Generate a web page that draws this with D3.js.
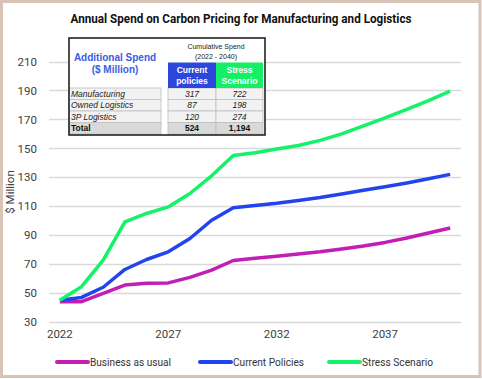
<!DOCTYPE html>
<html><head><meta charset="utf-8">
<script src="https://cdn.jsdelivr.net/npm/d3@7"></script>
<style>body{margin:0;background:#fff}svg{display:block}</style>
</head><body>
<svg id="c" width="482" height="379"></svg>
<script>
const years = d3.range(2022, 2041).map(String);
const tickYears = ["2022","2027","2032","2037"];
const yTicks = [30,50,70,90,110,130,150,170,190,210];
const businessAsUsual = [44,44,49.8,55.5,56.7,57,60.8,65.9,72.5,74,75.5,77,78.5,80.5,82.5,85,88,91.5,95];
const currentPolicies = [45,47,54,66.3,73.2,78.5,87.7,100.3,109,110.5,112,114,116,118.5,121,123.5,126,129,132];
const stressScenario = [45,54.4,72.8,99.2,105,109.5,118.8,131,145,147,149.5,152,155.5,160,165.5,171,177,183,189.5];
const seriesNames = ["Business as usual","Current Policies","Stress Scenario"];
const seriesColors = ["#c21db5","#2244ee","#14f26a"];
const tableRows = ["Manufacturing","Owned Logistics","3P Logistics"];
const tableCurrent = ["317","87","120"];
const tableStress = ["722","198","274"];
const tableTotal = ["524","1,194"];

const svg = d3.select("#c");
svg.append("rect").attr("x",1.5).attr("y",1.5).attr("width",478.5).attr("height",375)
  .attr("fill","#fff").attr("stroke","#d8c4b6").attr("stroke-width",3);

svg.append("text").attr("x",241).attr("y",23).attr("text-anchor","middle")
  .attr("font-family","Roboto").attr("font-weight","bold").attr("font-size",12.5)
  .attr("textLength",341).attr("lengthAdjust","spacingAndGlyphs")
  .attr("fill","#111").text("Annual Spend on Carbon Pricing for Manufacturing and Logistics");

const x = d3.scaleBand().domain(years).range([49,461]).padding(0);
const y = d3.scaleLinear().domain([30,210]).range([322,61.5]);

// gridlines
svg.append("g").selectAll("line").data(yTicks).join("line")
  .attr("x1",49).attr("x2",461).attr("y1",d=>Math.round(y(d))+0.5).attr("y2",d=>Math.round(y(d))+0.5)
  .attr("stroke","#d9d9d9").attr("stroke-width",1.3);

const yAxis = svg.append("g").attr("transform","translate(49,0)")
  .call(d3.axisLeft(y).tickValues(yTicks).tickSize(0).tickPadding(12));
yAxis.select(".domain").remove();
yAxis.selectAll("text").attr("font-family","Roboto").attr("font-size",11.5).attr("fill","#404040");

const xAxis = svg.append("g").attr("transform","translate(0,322)")
  .call(d3.axisBottom(x).tickValues(tickYears).tickSize(0).tickPadding(8));
xAxis.select(".domain").remove();
xAxis.selectAll("text").attr("font-family","Roboto").attr("font-size",11.5).attr("fill","#404040");

svg.append("text").attr("transform","translate(14,192) rotate(-90)").attr("text-anchor","middle")
  .attr("font-family","Roboto").attr("font-size",11.5).attr("fill","#404040").text("$ Million");

const line = d3.line().x((d,i)=>x(years[i])+x.bandwidth()/2).y(d=>y(d));
[businessAsUsual,currentPolicies,stressScenario].forEach((s,k)=>{
  svg.append("path").attr("d",line(s)).attr("fill","none").attr("stroke",seriesColors[k])
    .attr("stroke-width",3.5).attr("stroke-linejoin","round");
});

// legend
const legX = [57,200,329];
const legW = [81,71,71];
seriesNames.forEach((n,k)=>{
  svg.append("line").attr("x1",legX[k]).attr("x2",legX[k]+31).attr("y1",362).attr("y2",362)
    .attr("stroke",seriesColors[k]).attr("stroke-width",4).attr("stroke-linecap","round");
  svg.append("text").attr("x",legX[k]+33).attr("y",366).attr("font-family","Roboto")
    .attr("font-size",11).attr("textLength",legW[k]).attr("lengthAdjust","spacingAndGlyphs")
    .attr("fill","#333").text(n);
});

// table
const T = svg.append("g");
const tf = "Liberation Sans";
T.append("rect").attr("x",69).attr("y",38).attr("width",196).attr("height",97).attr("fill","#fff");
const rowY = [88,99.5,111,122.5];
const rowH = 11.5;
const colX = [69,168,216], colW = [92,48,47];
tableRows.forEach((r,i)=>{
  [0,1,2].forEach(c=>{
    T.append("rect").attr("x",colX[c]).attr("y",rowY[i]).attr("width",colW[c]).attr("height",rowH)
      .attr("fill","#f2f2f2").attr("stroke","#bfbfbf").attr("stroke-width",0.8);
  });
  T.append("text").attr("x",71).attr("y",rowY[i]+8.8).attr("font-family",tf).attr("font-style","italic")
    .attr("font-size",8.5).attr("fill","#222").text(r);
  T.append("text").attr("x",colX[1]+colW[1]/2).attr("y",rowY[i]+8.8).attr("text-anchor","middle").attr("font-family",tf).attr("font-style","italic")
    .attr("font-size",8.5).attr("fill","#222").text(tableCurrent[i]);
  T.append("text").attr("x",colX[2]+colW[2]/2).attr("y",rowY[i]+8.8).attr("text-anchor","middle").attr("font-family",tf).attr("font-style","italic")
    .attr("font-size",8.5).attr("fill","#222").text(tableStress[i]);
});
[0,1,2].forEach(c=>{
  T.append("rect").attr("x",colX[c]).attr("y",rowY[3]).attr("width",colW[c]).attr("height",rowH)
    .attr("fill","#d9d9d9").attr("stroke","#bfbfbf").attr("stroke-width",0.8);
});
T.append("text").attr("x",71).attr("y",rowY[3]+8.8).attr("font-family",tf).attr("font-weight","bold")
  .attr("font-size",8.5).attr("fill","#111").text("Total");
tableTotal.forEach((v,c)=>{
  T.append("text").attr("x",colX[c+1]+colW[c+1]/2).attr("y",rowY[3]+8.8).attr("text-anchor","middle")
    .attr("font-family",tf).attr("font-weight","bold").attr("font-size",8.5).attr("fill","#111").text(v);
});
T.append("rect").attr("x",colX[1]).attr("y",62.5).attr("width",colW[1]).attr("height",25.5).attr("fill","#2d46dc");
T.append("rect").attr("x",colX[2]).attr("y",62.5).attr("width",colW[2]).attr("height",25.5).attr("fill","#14ef66");
[["Current","policies"],["Stress","Scenario"]].forEach((ls,c)=>{
  ls.forEach((l,j)=>{
    T.append("text").attr("x",colX[c+1]+colW[c+1]/2).attr("y",73+j*10.5).attr("text-anchor","middle")
      .attr("font-family",tf).attr("font-weight","bold").attr("font-size",8.5).attr("fill","#fff").text(l);
  });
});
T.append("text").attr("x",216).attr("y",49).attr("text-anchor","middle").attr("font-family",tf)
  .attr("font-size",7).attr("fill","#222").text("Cumulative Spend");
T.append("text").attr("x",216).attr("y",58.5).attr("text-anchor","middle").attr("font-family",tf)
  .attr("font-size",7).attr("fill","#222").text("(2022 - 2040)");
T.append("text").attr("x",115).attr("y",61).attr("text-anchor","middle").attr("font-family",tf).attr("font-weight","bold")
  .attr("font-size",10).attr("fill","#3b5ce0").text("Additional Spend");
T.append("text").attr("x",115).attr("y",73).attr("text-anchor","middle").attr("font-family",tf).attr("font-weight","bold")
  .attr("font-size",10).attr("fill","#3b5ce0").text("($ Million)");
T.append("rect").attr("x",69).attr("y",38).attr("width",196).attr("height",97).attr("fill","none")
  .attr("stroke","#222").attr("stroke-width",1.6);
</script>
</body></html>
